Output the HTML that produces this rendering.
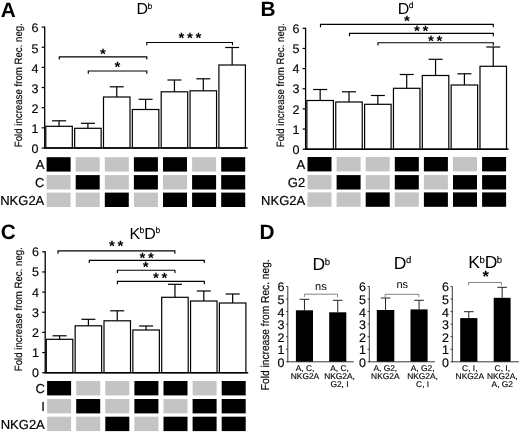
<!DOCTYPE html>
<html><head><meta charset="utf-8"><title>Figure</title>
<style>
html,body{margin:0;padding:0;background:#fff;}
body{width:520px;height:432px;overflow:hidden;}
svg{display:block;filter:blur(0.3px);text-rendering:geometricPrecision;font-family:'Liberation Sans', Arial, Helvetica, sans-serif;}
</style></head><body>
<svg width="520" height="432" viewBox="0 0 520 432">
<rect x="0" y="0" width="520" height="432" fill="#fff"/>
<text x="0.75" y="16.65" font-size="20.8" text-anchor="start" font-weight="bold" fill="#000">A</text>
<text x="136.40" y="14.00" font-size="16" fill="#000">D<tspan font-size="8.6" dx="-0.5" dy="-5.4" stroke="#000" stroke-width="0.15">b</tspan></text>
<text transform="translate(22.00,147.20) rotate(-90) scale(0.912,1)" font-size="10.6" fill="#000" stroke="#000" stroke-width="0.15">Fold increase from Rec. neg.</text>
<rect x="45.80" y="126.30" width="26.50" height="21.70" fill="#fff" stroke="#000" stroke-width="1.2"/>
<line x1="59.05" y1="126.30" x2="59.05" y2="120.80" stroke="#000" stroke-width="1.2"/>
<line x1="52.05" y1="120.80" x2="66.05" y2="120.80" stroke="#000" stroke-width="1.2"/>
<rect x="74.65" y="128.30" width="26.50" height="19.70" fill="#fff" stroke="#000" stroke-width="1.2"/>
<line x1="87.90" y1="128.30" x2="87.90" y2="123.30" stroke="#000" stroke-width="1.2"/>
<line x1="80.90" y1="123.30" x2="94.90" y2="123.30" stroke="#000" stroke-width="1.2"/>
<rect x="103.50" y="97.00" width="26.50" height="51.00" fill="#fff" stroke="#000" stroke-width="1.2"/>
<line x1="116.75" y1="97.00" x2="116.75" y2="86.80" stroke="#000" stroke-width="1.2"/>
<line x1="109.75" y1="86.80" x2="123.75" y2="86.80" stroke="#000" stroke-width="1.2"/>
<rect x="132.35" y="109.50" width="26.50" height="38.50" fill="#fff" stroke="#000" stroke-width="1.2"/>
<line x1="145.60" y1="109.50" x2="145.60" y2="99.30" stroke="#000" stroke-width="1.2"/>
<line x1="138.60" y1="99.30" x2="152.60" y2="99.30" stroke="#000" stroke-width="1.2"/>
<rect x="161.20" y="91.80" width="26.50" height="56.20" fill="#fff" stroke="#000" stroke-width="1.2"/>
<line x1="174.45" y1="91.80" x2="174.45" y2="80.00" stroke="#000" stroke-width="1.2"/>
<line x1="167.45" y1="80.00" x2="181.45" y2="80.00" stroke="#000" stroke-width="1.2"/>
<rect x="190.05" y="90.80" width="26.50" height="57.20" fill="#fff" stroke="#000" stroke-width="1.2"/>
<line x1="203.30" y1="90.80" x2="203.30" y2="78.80" stroke="#000" stroke-width="1.2"/>
<line x1="196.30" y1="78.80" x2="210.30" y2="78.80" stroke="#000" stroke-width="1.2"/>
<rect x="218.90" y="65.00" width="26.50" height="83.00" fill="#fff" stroke="#000" stroke-width="1.2"/>
<line x1="232.15" y1="65.00" x2="232.15" y2="47.50" stroke="#000" stroke-width="1.2"/>
<line x1="225.15" y1="47.50" x2="239.15" y2="47.50" stroke="#000" stroke-width="1.2"/>
<line x1="44.70" y1="26.50" x2="44.70" y2="148.60" stroke="#000" stroke-width="1.3"/>
<line x1="44.00" y1="148.00" x2="247.70" y2="148.00" stroke="#000" stroke-width="1.4"/>
<line x1="41.70" y1="148.00" x2="44.70" y2="148.00" stroke="#000" stroke-width="1.2"/>
<text x="38.50" y="153.30" font-size="12.5" text-anchor="end" font-weight="normal" fill="#000" stroke="#000" stroke-width="0.15">0</text>
<line x1="41.70" y1="127.85" x2="44.70" y2="127.85" stroke="#000" stroke-width="1.2"/>
<text x="38.50" y="133.15" font-size="12.5" text-anchor="end" font-weight="normal" fill="#000" stroke="#000" stroke-width="0.15">1</text>
<line x1="41.70" y1="107.70" x2="44.70" y2="107.70" stroke="#000" stroke-width="1.2"/>
<text x="38.50" y="113.00" font-size="12.5" text-anchor="end" font-weight="normal" fill="#000" stroke="#000" stroke-width="0.15">2</text>
<line x1="41.70" y1="87.55" x2="44.70" y2="87.55" stroke="#000" stroke-width="1.2"/>
<text x="38.50" y="92.85" font-size="12.5" text-anchor="end" font-weight="normal" fill="#000" stroke="#000" stroke-width="0.15">3</text>
<line x1="41.70" y1="67.40" x2="44.70" y2="67.40" stroke="#000" stroke-width="1.2"/>
<text x="38.50" y="72.70" font-size="12.5" text-anchor="end" font-weight="normal" fill="#000" stroke="#000" stroke-width="0.15">4</text>
<line x1="41.70" y1="47.25" x2="44.70" y2="47.25" stroke="#000" stroke-width="1.2"/>
<text x="38.50" y="52.55" font-size="12.5" text-anchor="end" font-weight="normal" fill="#000" stroke="#000" stroke-width="0.15">5</text>
<line x1="41.70" y1="27.10" x2="44.70" y2="27.10" stroke="#000" stroke-width="1.2"/>
<text x="38.50" y="32.40" font-size="12.5" text-anchor="end" font-weight="normal" fill="#000" stroke="#000" stroke-width="0.15">6</text>
<text x="44.30" y="169.40" font-size="13" text-anchor="end" font-weight="normal" fill="#000" stroke="#000" stroke-width="0.2">A</text>
<rect x="46.60" y="157.20" width="24.00" height="14.40" fill="#000"/>
<rect x="75.70" y="157.20" width="24.00" height="14.40" fill="#c4c4c4"/>
<rect x="104.80" y="157.20" width="24.00" height="14.40" fill="#c4c4c4"/>
<rect x="133.90" y="157.20" width="24.00" height="14.40" fill="#000"/>
<rect x="163.00" y="157.20" width="24.00" height="14.40" fill="#000"/>
<rect x="192.10" y="157.20" width="24.00" height="14.40" fill="#c4c4c4"/>
<rect x="221.20" y="157.20" width="24.00" height="14.40" fill="#000"/>
<text x="44.30" y="187.30" font-size="13" text-anchor="end" font-weight="normal" fill="#000" stroke="#000" stroke-width="0.2">C</text>
<rect x="46.60" y="175.10" width="24.00" height="14.40" fill="#c4c4c4"/>
<rect x="75.70" y="175.10" width="24.00" height="14.40" fill="#000"/>
<rect x="104.80" y="175.10" width="24.00" height="14.40" fill="#c4c4c4"/>
<rect x="133.90" y="175.10" width="24.00" height="14.40" fill="#000"/>
<rect x="163.00" y="175.10" width="24.00" height="14.40" fill="#c4c4c4"/>
<rect x="192.10" y="175.10" width="24.00" height="14.40" fill="#000"/>
<rect x="221.20" y="175.10" width="24.00" height="14.40" fill="#000"/>
<text x="44.30" y="204.80" font-size="13" text-anchor="end" font-weight="normal" fill="#000" stroke="#000" stroke-width="0.2">NKG2A</text>
<rect x="46.60" y="192.60" width="24.00" height="14.40" fill="#c4c4c4"/>
<rect x="75.70" y="192.60" width="24.00" height="14.40" fill="#c4c4c4"/>
<rect x="104.80" y="192.60" width="24.00" height="14.40" fill="#000"/>
<rect x="133.90" y="192.60" width="24.00" height="14.40" fill="#c4c4c4"/>
<rect x="163.00" y="192.60" width="24.00" height="14.40" fill="#000"/>
<rect x="192.10" y="192.60" width="24.00" height="14.40" fill="#000"/>
<rect x="221.20" y="192.60" width="24.00" height="14.40" fill="#000"/>
<path d="M59.30 59.60V56.80H146.80V59.60" fill="none" stroke="#000" stroke-width="1.15"/>
<text x="99.98" y="59.17" font-size="15" font-weight="bold" letter-spacing="2.76" fill="#000">*</text>
<path d="M88.30 73.80V71.00H146.80V73.80" fill="none" stroke="#000" stroke-width="1.15"/>
<text x="114.48" y="71.92" font-size="15" font-weight="bold" letter-spacing="2.76" fill="#000">*</text>
<path d="M146.80 45.30V42.50H232.50V45.30" fill="none" stroke="#000" stroke-width="1.15"/>
<text x="178.38" y="43.22" font-size="15" font-weight="bold" letter-spacing="2.76" fill="#000">***</text>
<text x="260.40" y="16.20" font-size="20.8" text-anchor="start" font-weight="bold" fill="#000">B</text>
<text x="397.80" y="13.60" font-size="16" fill="#000">D<tspan font-size="8.6" dx="-0.5" dy="-5.4" stroke="#000" stroke-width="0.15">d</tspan></text>
<text transform="translate(284.30,147.20) rotate(-90) scale(0.912,1)" font-size="10.6" fill="#000" stroke="#000" stroke-width="0.15">Fold increase from Rec. neg.</text>
<rect x="306.90" y="100.50" width="26.50" height="48.70" fill="#fff" stroke="#000" stroke-width="1.2"/>
<line x1="320.15" y1="100.50" x2="320.15" y2="89.50" stroke="#000" stroke-width="1.2"/>
<line x1="313.15" y1="89.50" x2="327.15" y2="89.50" stroke="#000" stroke-width="1.2"/>
<rect x="335.75" y="102.00" width="26.50" height="47.20" fill="#fff" stroke="#000" stroke-width="1.2"/>
<line x1="349.00" y1="102.00" x2="349.00" y2="91.80" stroke="#000" stroke-width="1.2"/>
<line x1="342.00" y1="91.80" x2="356.00" y2="91.80" stroke="#000" stroke-width="1.2"/>
<rect x="364.60" y="104.30" width="26.50" height="44.90" fill="#fff" stroke="#000" stroke-width="1.2"/>
<line x1="377.85" y1="104.30" x2="377.85" y2="95.50" stroke="#000" stroke-width="1.2"/>
<line x1="370.85" y1="95.50" x2="384.85" y2="95.50" stroke="#000" stroke-width="1.2"/>
<rect x="393.45" y="88.30" width="26.50" height="60.90" fill="#fff" stroke="#000" stroke-width="1.2"/>
<line x1="406.70" y1="88.30" x2="406.70" y2="74.50" stroke="#000" stroke-width="1.2"/>
<line x1="399.70" y1="74.50" x2="413.70" y2="74.50" stroke="#000" stroke-width="1.2"/>
<rect x="422.30" y="75.50" width="26.50" height="73.70" fill="#fff" stroke="#000" stroke-width="1.2"/>
<line x1="435.55" y1="75.50" x2="435.55" y2="59.30" stroke="#000" stroke-width="1.2"/>
<line x1="428.55" y1="59.30" x2="442.55" y2="59.30" stroke="#000" stroke-width="1.2"/>
<rect x="451.15" y="85.00" width="26.50" height="64.20" fill="#fff" stroke="#000" stroke-width="1.2"/>
<line x1="464.40" y1="85.00" x2="464.40" y2="73.80" stroke="#000" stroke-width="1.2"/>
<line x1="457.40" y1="73.80" x2="471.40" y2="73.80" stroke="#000" stroke-width="1.2"/>
<rect x="480.00" y="66.30" width="26.50" height="82.90" fill="#fff" stroke="#000" stroke-width="1.2"/>
<line x1="493.25" y1="66.30" x2="493.25" y2="47.00" stroke="#000" stroke-width="1.2"/>
<line x1="486.25" y1="47.00" x2="500.25" y2="47.00" stroke="#000" stroke-width="1.2"/>
<line x1="305.60" y1="27.70" x2="305.60" y2="149.80" stroke="#000" stroke-width="1.3"/>
<line x1="304.90" y1="149.20" x2="508.60" y2="149.20" stroke="#000" stroke-width="1.4"/>
<line x1="302.60" y1="149.20" x2="305.60" y2="149.20" stroke="#000" stroke-width="1.2"/>
<text x="299.40" y="153.80" font-size="12.5" text-anchor="end" font-weight="normal" fill="#000" stroke="#000" stroke-width="0.15">0</text>
<line x1="302.60" y1="129.05" x2="305.60" y2="129.05" stroke="#000" stroke-width="1.2"/>
<text x="299.40" y="133.65" font-size="12.5" text-anchor="end" font-weight="normal" fill="#000" stroke="#000" stroke-width="0.15">1</text>
<line x1="302.60" y1="108.90" x2="305.60" y2="108.90" stroke="#000" stroke-width="1.2"/>
<text x="299.40" y="113.50" font-size="12.5" text-anchor="end" font-weight="normal" fill="#000" stroke="#000" stroke-width="0.15">2</text>
<line x1="302.60" y1="88.75" x2="305.60" y2="88.75" stroke="#000" stroke-width="1.2"/>
<text x="299.40" y="93.35" font-size="12.5" text-anchor="end" font-weight="normal" fill="#000" stroke="#000" stroke-width="0.15">3</text>
<line x1="302.60" y1="68.60" x2="305.60" y2="68.60" stroke="#000" stroke-width="1.2"/>
<text x="299.40" y="73.20" font-size="12.5" text-anchor="end" font-weight="normal" fill="#000" stroke="#000" stroke-width="0.15">4</text>
<line x1="302.60" y1="48.45" x2="305.60" y2="48.45" stroke="#000" stroke-width="1.2"/>
<text x="299.40" y="53.05" font-size="12.5" text-anchor="end" font-weight="normal" fill="#000" stroke="#000" stroke-width="0.15">5</text>
<line x1="302.60" y1="28.30" x2="305.60" y2="28.30" stroke="#000" stroke-width="1.2"/>
<text x="299.40" y="32.90" font-size="12.5" text-anchor="end" font-weight="normal" fill="#000" stroke="#000" stroke-width="0.15">6</text>
<text x="305.20" y="169.20" font-size="13" text-anchor="end" font-weight="normal" fill="#000" stroke="#000" stroke-width="0.2">A</text>
<rect x="307.50" y="157.00" width="24.00" height="14.40" fill="#000"/>
<rect x="336.60" y="157.00" width="24.00" height="14.40" fill="#c4c4c4"/>
<rect x="365.70" y="157.00" width="24.00" height="14.40" fill="#c4c4c4"/>
<rect x="394.80" y="157.00" width="24.00" height="14.40" fill="#000"/>
<rect x="423.90" y="157.00" width="24.00" height="14.40" fill="#000"/>
<rect x="453.00" y="157.00" width="24.00" height="14.40" fill="#c4c4c4"/>
<rect x="482.10" y="157.00" width="24.00" height="14.40" fill="#000"/>
<text x="305.20" y="187.30" font-size="13" text-anchor="end" font-weight="normal" fill="#000" stroke="#000" stroke-width="0.2">G2</text>
<rect x="307.50" y="175.10" width="24.00" height="14.40" fill="#c4c4c4"/>
<rect x="336.60" y="175.10" width="24.00" height="14.40" fill="#000"/>
<rect x="365.70" y="175.10" width="24.00" height="14.40" fill="#c4c4c4"/>
<rect x="394.80" y="175.10" width="24.00" height="14.40" fill="#000"/>
<rect x="423.90" y="175.10" width="24.00" height="14.40" fill="#c4c4c4"/>
<rect x="453.00" y="175.10" width="24.00" height="14.40" fill="#000"/>
<rect x="482.10" y="175.10" width="24.00" height="14.40" fill="#000"/>
<text x="305.20" y="204.60" font-size="13" text-anchor="end" font-weight="normal" fill="#000" stroke="#000" stroke-width="0.2">NKG2A</text>
<rect x="307.50" y="192.40" width="24.00" height="14.40" fill="#c4c4c4"/>
<rect x="336.60" y="192.40" width="24.00" height="14.40" fill="#c4c4c4"/>
<rect x="365.70" y="192.40" width="24.00" height="14.40" fill="#000"/>
<rect x="394.80" y="192.40" width="24.00" height="14.40" fill="#c4c4c4"/>
<rect x="423.90" y="192.40" width="24.00" height="14.40" fill="#000"/>
<rect x="453.00" y="192.40" width="24.00" height="14.40" fill="#000"/>
<rect x="482.10" y="192.40" width="24.00" height="14.40" fill="#000"/>
<path d="M320.50 27.20V24.40H493.30V27.20" fill="none" stroke="#000" stroke-width="1.15"/>
<text x="404.08" y="26.12" font-size="15" font-weight="bold" letter-spacing="2.76" fill="#000">*</text>
<path d="M349.50 36.20V33.40H493.30V36.20" fill="none" stroke="#000" stroke-width="1.15"/>
<text x="413.98" y="36.47" font-size="15" font-weight="bold" letter-spacing="2.76" fill="#000">**</text>
<path d="M378.00 45.50V42.70H493.30V45.50" fill="none" stroke="#000" stroke-width="1.15"/>
<text x="427.98" y="45.82" font-size="15" font-weight="bold" letter-spacing="2.76" fill="#000">**</text>
<text x="0.85" y="239.40" font-size="20.8" text-anchor="start" font-weight="bold" fill="#000">C</text>
<text x="129.40" y="238.50" font-size="16" fill="#000">K<tspan font-size="8.6" dx="-0.5" dy="-5.4" stroke="#000" stroke-width="0.15">b</tspan><tspan dy="5.4">D</tspan><tspan font-size="8.6" dx="-0.5" dy="-5.4" stroke="#000" stroke-width="0.15">b</tspan></text>
<text transform="translate(22.00,371.20) rotate(-90) scale(0.912,1)" font-size="10.6" fill="#000" stroke="#000" stroke-width="0.15">Fold increase from Rec. neg.</text>
<rect x="46.30" y="339.30" width="26.50" height="33.40" fill="#fff" stroke="#000" stroke-width="1.2"/>
<line x1="59.55" y1="339.30" x2="59.55" y2="335.80" stroke="#000" stroke-width="1.2"/>
<line x1="52.55" y1="335.80" x2="66.55" y2="335.80" stroke="#000" stroke-width="1.2"/>
<rect x="75.15" y="325.80" width="26.50" height="46.90" fill="#fff" stroke="#000" stroke-width="1.2"/>
<line x1="88.40" y1="325.80" x2="88.40" y2="319.30" stroke="#000" stroke-width="1.2"/>
<line x1="81.40" y1="319.30" x2="95.40" y2="319.30" stroke="#000" stroke-width="1.2"/>
<rect x="104.00" y="320.80" width="26.50" height="51.90" fill="#fff" stroke="#000" stroke-width="1.2"/>
<line x1="117.25" y1="320.80" x2="117.25" y2="310.80" stroke="#000" stroke-width="1.2"/>
<line x1="110.25" y1="310.80" x2="124.25" y2="310.80" stroke="#000" stroke-width="1.2"/>
<rect x="132.85" y="330.00" width="26.50" height="42.70" fill="#fff" stroke="#000" stroke-width="1.2"/>
<line x1="146.10" y1="330.00" x2="146.10" y2="326.00" stroke="#000" stroke-width="1.2"/>
<line x1="139.10" y1="326.00" x2="153.10" y2="326.00" stroke="#000" stroke-width="1.2"/>
<rect x="161.70" y="297.30" width="26.50" height="75.40" fill="#fff" stroke="#000" stroke-width="1.2"/>
<line x1="174.95" y1="297.30" x2="174.95" y2="284.30" stroke="#000" stroke-width="1.2"/>
<line x1="167.95" y1="284.30" x2="181.95" y2="284.30" stroke="#000" stroke-width="1.2"/>
<rect x="190.55" y="301.00" width="26.50" height="71.70" fill="#fff" stroke="#000" stroke-width="1.2"/>
<line x1="203.80" y1="301.00" x2="203.80" y2="291.00" stroke="#000" stroke-width="1.2"/>
<line x1="196.80" y1="291.00" x2="210.80" y2="291.00" stroke="#000" stroke-width="1.2"/>
<rect x="219.40" y="303.00" width="26.50" height="69.70" fill="#fff" stroke="#000" stroke-width="1.2"/>
<line x1="232.65" y1="303.00" x2="232.65" y2="294.00" stroke="#000" stroke-width="1.2"/>
<line x1="225.65" y1="294.00" x2="239.65" y2="294.00" stroke="#000" stroke-width="1.2"/>
<line x1="45.20" y1="251.20" x2="45.20" y2="373.30" stroke="#000" stroke-width="1.3"/>
<line x1="44.50" y1="372.70" x2="248.20" y2="372.70" stroke="#000" stroke-width="1.4"/>
<line x1="42.20" y1="372.70" x2="45.20" y2="372.70" stroke="#000" stroke-width="1.2"/>
<text x="39.00" y="377.10" font-size="12.5" text-anchor="end" font-weight="normal" fill="#000" stroke="#000" stroke-width="0.15">0</text>
<line x1="42.20" y1="352.55" x2="45.20" y2="352.55" stroke="#000" stroke-width="1.2"/>
<text x="39.00" y="356.95" font-size="12.5" text-anchor="end" font-weight="normal" fill="#000" stroke="#000" stroke-width="0.15">1</text>
<line x1="42.20" y1="332.40" x2="45.20" y2="332.40" stroke="#000" stroke-width="1.2"/>
<text x="39.00" y="336.80" font-size="12.5" text-anchor="end" font-weight="normal" fill="#000" stroke="#000" stroke-width="0.15">2</text>
<line x1="42.20" y1="312.25" x2="45.20" y2="312.25" stroke="#000" stroke-width="1.2"/>
<text x="39.00" y="316.65" font-size="12.5" text-anchor="end" font-weight="normal" fill="#000" stroke="#000" stroke-width="0.15">3</text>
<line x1="42.20" y1="292.10" x2="45.20" y2="292.10" stroke="#000" stroke-width="1.2"/>
<text x="39.00" y="296.50" font-size="12.5" text-anchor="end" font-weight="normal" fill="#000" stroke="#000" stroke-width="0.15">4</text>
<line x1="42.20" y1="271.95" x2="45.20" y2="271.95" stroke="#000" stroke-width="1.2"/>
<text x="39.00" y="276.35" font-size="12.5" text-anchor="end" font-weight="normal" fill="#000" stroke="#000" stroke-width="0.15">5</text>
<line x1="42.20" y1="251.80" x2="45.20" y2="251.80" stroke="#000" stroke-width="1.2"/>
<text x="39.00" y="256.20" font-size="12.5" text-anchor="end" font-weight="normal" fill="#000" stroke="#000" stroke-width="0.15">6</text>
<text x="44.80" y="393.20" font-size="13" text-anchor="end" font-weight="normal" fill="#000" stroke="#000" stroke-width="0.2">C</text>
<rect x="47.10" y="381.00" width="24.00" height="14.40" fill="#000"/>
<rect x="76.20" y="381.00" width="24.00" height="14.40" fill="#c4c4c4"/>
<rect x="105.30" y="381.00" width="24.00" height="14.40" fill="#c4c4c4"/>
<rect x="134.40" y="381.00" width="24.00" height="14.40" fill="#000"/>
<rect x="163.50" y="381.00" width="24.00" height="14.40" fill="#000"/>
<rect x="192.60" y="381.00" width="24.00" height="14.40" fill="#c4c4c4"/>
<rect x="221.70" y="381.00" width="24.00" height="14.40" fill="#000"/>
<text x="44.80" y="411.20" font-size="13" text-anchor="end" font-weight="normal" fill="#000" stroke="#000" stroke-width="0.2">I</text>
<rect x="47.10" y="399.00" width="24.00" height="14.40" fill="#c4c4c4"/>
<rect x="76.20" y="399.00" width="24.00" height="14.40" fill="#000"/>
<rect x="105.30" y="399.00" width="24.00" height="14.40" fill="#c4c4c4"/>
<rect x="134.40" y="399.00" width="24.00" height="14.40" fill="#000"/>
<rect x="163.50" y="399.00" width="24.00" height="14.40" fill="#c4c4c4"/>
<rect x="192.60" y="399.00" width="24.00" height="14.40" fill="#000"/>
<rect x="221.70" y="399.00" width="24.00" height="14.40" fill="#000"/>
<text x="44.80" y="428.90" font-size="13" text-anchor="end" font-weight="normal" fill="#000" stroke="#000" stroke-width="0.2">NKG2A</text>
<rect x="47.10" y="416.70" width="24.00" height="14.40" fill="#c4c4c4"/>
<rect x="76.20" y="416.70" width="24.00" height="14.40" fill="#c4c4c4"/>
<rect x="105.30" y="416.70" width="24.00" height="14.40" fill="#000"/>
<rect x="134.40" y="416.70" width="24.00" height="14.40" fill="#c4c4c4"/>
<rect x="163.50" y="416.70" width="24.00" height="14.40" fill="#000"/>
<rect x="192.60" y="416.70" width="24.00" height="14.40" fill="#000"/>
<rect x="221.70" y="416.70" width="24.00" height="14.40" fill="#000"/>
<path d="M58.00 253.70V250.90H174.90V253.70" fill="none" stroke="#000" stroke-width="1.15"/>
<text x="108.88" y="251.42" font-size="15" font-weight="bold" letter-spacing="2.76" fill="#000">**</text>
<path d="M89.30 263.10V260.30H204.30V263.10" fill="none" stroke="#000" stroke-width="1.15"/>
<text x="139.38" y="262.52" font-size="15" font-weight="bold" letter-spacing="2.76" fill="#000">**</text>
<path d="M117.40 273.00V270.20H174.90V273.00" fill="none" stroke="#000" stroke-width="1.15"/>
<text x="142.78" y="271.72" font-size="15" font-weight="bold" letter-spacing="2.76" fill="#000">*</text>
<path d="M117.40 284.20V281.40H204.30V284.20" fill="none" stroke="#000" stroke-width="1.15"/>
<text x="152.98" y="282.82" font-size="15" font-weight="bold" letter-spacing="2.76" fill="#000">**</text>
<text x="259.60" y="238.85" font-size="20.8" text-anchor="start" font-weight="bold" fill="#000">D</text>
<text transform="translate(268.65,390.2) rotate(-90) scale(0.895,1)" font-size="11.4" fill="#000" stroke="#000" stroke-width="0.15">Fold increase from Rec. neg.</text>
<text x="312.60" y="269.70" font-size="17.5" fill="#000">D<tspan font-size="9.5" dx="-0.5" dy="-5.2" stroke="#000" stroke-width="0.15">b</tspan></text>
<rect x="295.90" y="310.30" width="17.10" height="51.50" fill="#000"/>
<line x1="304.45" y1="310.30" x2="304.45" y2="299.30" stroke="#222" stroke-width="1.0"/>
<line x1="299.65" y1="299.30" x2="309.25" y2="299.30" stroke="#222" stroke-width="1.0"/>
<rect x="329.20" y="312.30" width="17.10" height="49.50" fill="#000"/>
<line x1="337.75" y1="312.30" x2="337.75" y2="300.30" stroke="#222" stroke-width="1.0"/>
<line x1="332.95" y1="300.30" x2="342.55" y2="300.30" stroke="#222" stroke-width="1.0"/>
<line x1="287.80" y1="286.50" x2="287.80" y2="362.20" stroke="#222" stroke-width="0.9"/>
<line x1="287.80" y1="361.80" x2="353.80" y2="361.80" stroke="#222" stroke-width="0.9"/>
<line x1="286.10" y1="361.80" x2="287.80" y2="361.80" stroke="#222" stroke-width="0.9"/>
<text x="284.50" y="366.70" font-size="12.5" text-anchor="end" font-weight="normal" fill="#000" stroke="#000" stroke-width="0.15">0</text>
<line x1="286.10" y1="349.25" x2="287.80" y2="349.25" stroke="#222" stroke-width="0.9"/>
<text x="284.50" y="354.15" font-size="12.5" text-anchor="end" font-weight="normal" fill="#000" stroke="#000" stroke-width="0.15">1</text>
<line x1="286.10" y1="336.70" x2="287.80" y2="336.70" stroke="#222" stroke-width="0.9"/>
<text x="284.50" y="341.60" font-size="12.5" text-anchor="end" font-weight="normal" fill="#000" stroke="#000" stroke-width="0.15">2</text>
<line x1="286.10" y1="324.15" x2="287.80" y2="324.15" stroke="#222" stroke-width="0.9"/>
<text x="284.50" y="329.05" font-size="12.5" text-anchor="end" font-weight="normal" fill="#000" stroke="#000" stroke-width="0.15">3</text>
<line x1="286.10" y1="311.60" x2="287.80" y2="311.60" stroke="#222" stroke-width="0.9"/>
<text x="284.50" y="316.50" font-size="12.5" text-anchor="end" font-weight="normal" fill="#000" stroke="#000" stroke-width="0.15">4</text>
<line x1="286.10" y1="299.05" x2="287.80" y2="299.05" stroke="#222" stroke-width="0.9"/>
<text x="284.50" y="303.95" font-size="12.5" text-anchor="end" font-weight="normal" fill="#000" stroke="#000" stroke-width="0.15">5</text>
<line x1="286.10" y1="286.50" x2="287.80" y2="286.50" stroke="#222" stroke-width="0.9"/>
<text x="284.50" y="291.40" font-size="12.5" text-anchor="end" font-weight="normal" fill="#000" stroke="#000" stroke-width="0.15">6</text>
<path d="M304.40 297.00V294.20H337.50V297.00" fill="none" stroke="#505050" stroke-width="0.7"/>
<text x="320.90" y="290.40" font-size="11" text-anchor="middle" font-weight="normal" fill="#000">ns</text>
<text x="305.00" y="371.10" font-size="8.4" text-anchor="middle" font-weight="normal" fill="#000" stroke="#000" stroke-width="0.15">A, C,</text>
<text x="305.00" y="379.00" font-size="8.4" text-anchor="middle" font-weight="normal" fill="#000" stroke="#000" stroke-width="0.15">NKG2A</text>
<text x="339.50" y="371.10" font-size="8.4" text-anchor="middle" font-weight="normal" fill="#000" stroke="#000" stroke-width="0.15">A, C,</text>
<text x="339.50" y="379.00" font-size="8.4" text-anchor="middle" font-weight="normal" fill="#000" stroke="#000" stroke-width="0.15">NKG2A,</text>
<text x="339.50" y="386.90" font-size="8.4" text-anchor="middle" font-weight="normal" fill="#000" stroke="#000" stroke-width="0.15">G2, I</text>
<text x="393.80" y="268.60" font-size="17.5" fill="#000">D<tspan font-size="9.5" dx="-0.5" dy="-5.2" stroke="#000" stroke-width="0.15">d</tspan></text>
<rect x="376.80" y="310.00" width="17.50" height="51.80" fill="#000"/>
<line x1="385.55" y1="310.00" x2="385.55" y2="298.00" stroke="#222" stroke-width="1.0"/>
<line x1="380.75" y1="298.00" x2="390.35" y2="298.00" stroke="#222" stroke-width="1.0"/>
<rect x="410.50" y="309.40" width="17.10" height="52.40" fill="#000"/>
<line x1="419.05" y1="309.40" x2="419.05" y2="300.30" stroke="#222" stroke-width="1.0"/>
<line x1="414.25" y1="300.30" x2="423.85" y2="300.30" stroke="#222" stroke-width="1.0"/>
<line x1="369.30" y1="286.50" x2="369.30" y2="362.20" stroke="#222" stroke-width="0.9"/>
<line x1="369.30" y1="361.80" x2="435.00" y2="361.80" stroke="#222" stroke-width="0.9"/>
<line x1="367.60" y1="361.80" x2="369.30" y2="361.80" stroke="#222" stroke-width="0.9"/>
<text x="366.00" y="366.70" font-size="12.5" text-anchor="end" font-weight="normal" fill="#000" stroke="#000" stroke-width="0.15">0</text>
<line x1="367.60" y1="349.25" x2="369.30" y2="349.25" stroke="#222" stroke-width="0.9"/>
<text x="366.00" y="354.15" font-size="12.5" text-anchor="end" font-weight="normal" fill="#000" stroke="#000" stroke-width="0.15">1</text>
<line x1="367.60" y1="336.70" x2="369.30" y2="336.70" stroke="#222" stroke-width="0.9"/>
<text x="366.00" y="341.60" font-size="12.5" text-anchor="end" font-weight="normal" fill="#000" stroke="#000" stroke-width="0.15">2</text>
<line x1="367.60" y1="324.15" x2="369.30" y2="324.15" stroke="#222" stroke-width="0.9"/>
<text x="366.00" y="329.05" font-size="12.5" text-anchor="end" font-weight="normal" fill="#000" stroke="#000" stroke-width="0.15">3</text>
<line x1="367.60" y1="311.60" x2="369.30" y2="311.60" stroke="#222" stroke-width="0.9"/>
<text x="366.00" y="316.50" font-size="12.5" text-anchor="end" font-weight="normal" fill="#000" stroke="#000" stroke-width="0.15">4</text>
<line x1="367.60" y1="299.05" x2="369.30" y2="299.05" stroke="#222" stroke-width="0.9"/>
<text x="366.00" y="303.95" font-size="12.5" text-anchor="end" font-weight="normal" fill="#000" stroke="#000" stroke-width="0.15">5</text>
<line x1="367.60" y1="286.50" x2="369.30" y2="286.50" stroke="#222" stroke-width="0.9"/>
<text x="366.00" y="291.40" font-size="12.5" text-anchor="end" font-weight="normal" fill="#000" stroke="#000" stroke-width="0.15">6</text>
<path d="M385.20 297.10V294.30H418.90V297.10" fill="none" stroke="#505050" stroke-width="0.7"/>
<text x="402.30" y="287.80" font-size="11" text-anchor="middle" font-weight="normal" fill="#000">ns</text>
<text x="385.30" y="371.10" font-size="8.4" text-anchor="middle" font-weight="normal" fill="#000" stroke="#000" stroke-width="0.15">A, G2,</text>
<text x="385.30" y="379.00" font-size="8.4" text-anchor="middle" font-weight="normal" fill="#000" stroke="#000" stroke-width="0.15">NKG2A</text>
<text x="422.60" y="371.10" font-size="8.4" text-anchor="middle" font-weight="normal" fill="#000" stroke="#000" stroke-width="0.15">A, G2,</text>
<text x="422.60" y="379.00" font-size="8.4" text-anchor="middle" font-weight="normal" fill="#000" stroke="#000" stroke-width="0.15">NKG2A,</text>
<text x="422.60" y="386.90" font-size="8.4" text-anchor="middle" font-weight="normal" fill="#000" stroke="#000" stroke-width="0.15">C, I</text>
<text x="468.20" y="268.40" font-size="17.5" fill="#000">K<tspan font-size="9.5" dx="-0.5" dy="-5.2" stroke="#000" stroke-width="0.15">b</tspan><tspan dy="5.2">D</tspan><tspan font-size="9.5" dx="-0.5" dy="-5.2" stroke="#000" stroke-width="0.15">b</tspan></text>
<rect x="460.20" y="318.10" width="17.20" height="43.70" fill="#000"/>
<line x1="468.80" y1="318.10" x2="468.80" y2="311.70" stroke="#222" stroke-width="1.0"/>
<line x1="464.00" y1="311.70" x2="473.60" y2="311.70" stroke="#222" stroke-width="1.0"/>
<rect x="493.70" y="297.80" width="16.90" height="64.00" fill="#000"/>
<line x1="502.15" y1="297.80" x2="502.15" y2="287.30" stroke="#222" stroke-width="1.0"/>
<line x1="497.35" y1="287.30" x2="506.95" y2="287.30" stroke="#222" stroke-width="1.0"/>
<line x1="452.30" y1="286.50" x2="452.30" y2="362.20" stroke="#222" stroke-width="0.9"/>
<line x1="452.30" y1="361.80" x2="518.80" y2="361.80" stroke="#222" stroke-width="0.9"/>
<line x1="450.60" y1="361.80" x2="452.30" y2="361.80" stroke="#222" stroke-width="0.9"/>
<text x="449.00" y="366.70" font-size="12.5" text-anchor="end" font-weight="normal" fill="#000" stroke="#000" stroke-width="0.15">0</text>
<line x1="450.60" y1="349.25" x2="452.30" y2="349.25" stroke="#222" stroke-width="0.9"/>
<text x="449.00" y="354.15" font-size="12.5" text-anchor="end" font-weight="normal" fill="#000" stroke="#000" stroke-width="0.15">1</text>
<line x1="450.60" y1="336.70" x2="452.30" y2="336.70" stroke="#222" stroke-width="0.9"/>
<text x="449.00" y="341.60" font-size="12.5" text-anchor="end" font-weight="normal" fill="#000" stroke="#000" stroke-width="0.15">2</text>
<line x1="450.60" y1="324.15" x2="452.30" y2="324.15" stroke="#222" stroke-width="0.9"/>
<text x="449.00" y="329.05" font-size="12.5" text-anchor="end" font-weight="normal" fill="#000" stroke="#000" stroke-width="0.15">3</text>
<line x1="450.60" y1="311.60" x2="452.30" y2="311.60" stroke="#222" stroke-width="0.9"/>
<text x="449.00" y="316.50" font-size="12.5" text-anchor="end" font-weight="normal" fill="#000" stroke="#000" stroke-width="0.15">4</text>
<line x1="450.60" y1="299.05" x2="452.30" y2="299.05" stroke="#222" stroke-width="0.9"/>
<text x="449.00" y="303.95" font-size="12.5" text-anchor="end" font-weight="normal" fill="#000" stroke="#000" stroke-width="0.15">5</text>
<line x1="450.60" y1="286.50" x2="452.30" y2="286.50" stroke="#222" stroke-width="0.9"/>
<text x="449.00" y="291.40" font-size="12.5" text-anchor="end" font-weight="normal" fill="#000" stroke="#000" stroke-width="0.15">6</text>
<path d="M468.50 285.30V282.50H501.40V285.30" fill="none" stroke="#505050" stroke-width="0.7"/>
<text x="482.49" y="281.85" font-size="16.5" font-weight="bold" letter-spacing="2.18" fill="#000">*</text>
<text x="469.80" y="371.10" font-size="8.4" text-anchor="middle" font-weight="normal" fill="#000" stroke="#000" stroke-width="0.15">C, I,</text>
<text x="469.80" y="379.00" font-size="8.4" text-anchor="middle" font-weight="normal" fill="#000" stroke="#000" stroke-width="0.15">NKG2A</text>
<text x="502.30" y="371.10" font-size="8.4" text-anchor="middle" font-weight="normal" fill="#000" stroke="#000" stroke-width="0.15">C, I,</text>
<text x="502.30" y="379.00" font-size="8.4" text-anchor="middle" font-weight="normal" fill="#000" stroke="#000" stroke-width="0.15">NKG2A,</text>
<text x="502.30" y="386.90" font-size="8.4" text-anchor="middle" font-weight="normal" fill="#000" stroke="#000" stroke-width="0.15">A, G2</text>
</svg>
</body></html>
